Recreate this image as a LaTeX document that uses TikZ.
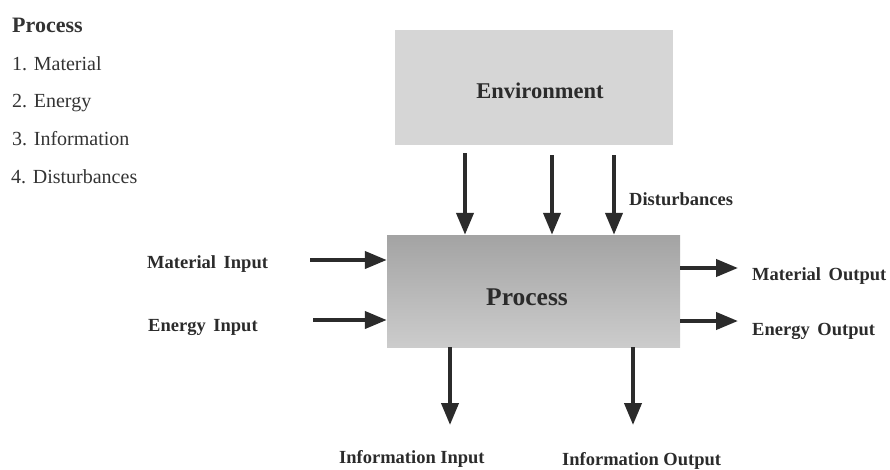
\documentclass[tikz,border=0pt]{standalone}
\usepackage{fontspec}
\setmainfont{Liberation Serif}
\usetikzlibrary{arrows.meta}
\definecolor{inkgray}{HTML}{2B2B2B}
\tikzset{flow/.style={inkgray, line width=4pt, -{Triangle[width=17pt,length=22pt]}},
  lbl/.style={inkgray, font={\fontsize{18.5}{22}\selectfont\bfseries}, inner sep=0pt, anchor=base west},
  boxlbl/.style={inkgray, font={\fontsize{22.5}{26}\selectfont\bfseries}, inner sep=0pt, anchor=base},
  item/.style={black!80, font={\fontsize{20}{24}\selectfont}, inner sep=0pt, anchor=base west}}

\begin{document}
\begin{tikzpicture}[x=1pt,y=-1pt]
  \useasboundingbox (0,0) rectangle (890,469);
  % list on the left
  \node[item, font={\fontsize{22}{26}\selectfont\bfseries}] (head) at (12,32) {Process};
  \node[item] (it1) at (12,70) {1. Material};
  \node[item] (it2) at (12,107) {2. Energy};
  \node[item] (it3) at (12,145) {3. Information};
  \node[item] (it4) at (11,183) {4. Disturbances};
  % the two boxes
  \node[fill=black!16, minimum width=278pt, minimum height=115pt, inner sep=0pt] (env) at (534,87.5) {};
  \node[top color=black!36, bottom color=black!20, minimum width=293pt, minimum height=112pt, inner sep=0pt] (proc) at (533.5,291) {};
  \node[boxlbl] (envtxt) at (540,98) {Environment};
  \node[boxlbl, font={\fontsize{25.5}{30}\selectfont\bfseries}] (proctxt) at (527,305) {Process};
  % disturbances from the environment
  \coordinate (d1) at (465,153);
  \coordinate (d2) at (552,155);
  \coordinate (d3) at (614,155);
  \foreach \d in {d1,d2,d3}
    \draw[flow] (\d) -- (\d |- proc.north);
  \node[lbl] (dist) at (629,205) {Disturbances};
  % inputs
  \coordinate (mi) at (310,260);
  \coordinate (ei) at (313,320);
  \draw[flow] (mi) -- (mi -| proc.west);
  \draw[flow] (ei) -- (ei -| proc.west);
  \node[lbl] (mitxt) at (147,268) {Material\, Input};
  \node[lbl] (eitxt) at (148,331) {Energy\, Input};
  % outputs
  \coordinate (mo) at (738,268);
  \coordinate (eo) at (738,321);
  \draw[flow] (mo -| proc.east) -- (mo);
  \draw[flow] (eo -| proc.east) -- (eo);
  \node[lbl] (motxt) at (752,280) {Material\, Output};
  \node[lbl] (eotxt) at (752,335) {Energy\, Output};
  % information
  \coordinate (ii) at (450,425);
  \coordinate (io) at (633,425);
  \draw[flow] (ii |- proc.south) -- (ii);
  \draw[flow] (io |- proc.south) -- (io);
  \node[lbl] (iitxt) at (339,463) {Information Input};
  \node[lbl] (iotxt) at (562,465) {Information Output};
\end{tikzpicture}
\end{document}
